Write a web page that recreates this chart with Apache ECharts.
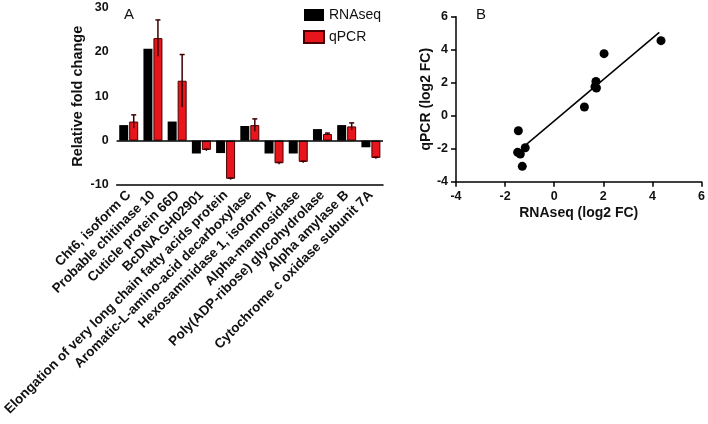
<!DOCTYPE html>
<html><head><meta charset="utf-8">
<script src="https://cdn.jsdelivr.net/npm/echarts@6/dist/echarts.min.js"></script>
<style>html,body{margin:0;padding:0;background:#fff}#c{width:708px;height:424px}</style>
</head><body><div id="c"></div>
<script>
const categories = ['Cht6, isoform C','Probable chitinase 10','Cuticle protein 66D','BcDNA.GH02901','Elongation of very long chain fatty acids protein','Aromatic-L-amino-acid decarboxylase','Hexosaminidase 1, isoform A','Alpha-mannosidase','Poly(ADP-ribose) glycohydrolase','Alpha amylase B','Cytochrome c oxidase subunit 7A'];
const rnaseq = [3.5, 20.7, 4.3, -2.9, -2.8, 3.3, -2.9, -2.9, 2.6, 3.5, -1.5];
const qpcr = [4.3, 23.1, 13.5, -2.1, -8.6, 3.5, -5.1, -4.8, 1.5, 3.2, -3.9];
const qpcrErr = [1.5, 4.1, 5.9, 0.2, 0.2, 1.4, 0.2, 0.2, 0.2, 0.8, 0.2];
const scatterX = [-1.46, -1.49, -1.38, -1.18, -1.30, 1.23, 1.70, 1.66, 1.72, 2.03, 4.35];
const scatterY = [-0.91, -2.22, -2.32, -1.94, -3.07, 0.53, 2.08, 1.76, 1.68, 3.76, 4.55];
const fitX = [-1.18, 4.28];
const fitY = [-1.80, 5.05];
const barTicks = [-10, 0, 10, 20, 30];

const chart = echarts.init(document.getElementById('c'));
const F = 'Liberation Sans, Arial, sans-serif';
const axisLine = {lineStyle:{color:'#000', width:1.5}};
const axisTick = {lineStyle:{color:'#000', width:1.5}, length:5};
const tickLabel = {color:'#111', fontFamily:F, fontWeight:'bold', fontSize:12.5};

chart.setOption({
  animation:false,
  textStyle:{fontFamily:F},
  title:[
    {text:'A', left:119, top:2, textStyle:{fontFamily:F, fontWeight:'normal', fontSize:15, color:'#111'}},
    {text:'B', left:471, top:2, textStyle:{fontFamily:F, fontWeight:'normal', fontSize:15, color:'#111'}}
  ],
  legend:{
    left:298, top:3, orient:'vertical', itemWidth:20, itemHeight:12, itemGap:8,
    textStyle:{fontFamily:F, fontSize:14, color:'#111'},
    data:[{name:'RNAseq', icon:'rect'},{name:'qPCR', icon:'rect'}]
  },
  grid:[
    {left:116, top:7.5, width:267, height:177.5},
    {left:456, top:16.7, width:248, height:165}
  ],
  xAxis:[
    {type:'category', gridIndex:0, data:categories, boundaryGap:true,
     axisLine:{...axisLine, onZero:false}, axisTick:{...axisTick, alignWithLabel:true},
     axisLabel:{...tickLabel, fontSize:13.5, rotate:45, interval:0, margin:8}},
    {type:'value', gridIndex:1, min:-4, max:6, interval:2, splitLine:{show:false},
     axisLine:{...axisLine, onZero:false}, axisTick:axisTick, axisLabel:tickLabel,
     name:'RNAseq (log2 FC)', nameLocation:'middle', nameGap:24,
     nameTextStyle:{fontFamily:F, fontWeight:'bold', fontSize:14, color:'#111'}}
  ],
  yAxis:[
    {type:'value', gridIndex:0, min:-10, max:30, interval:10, splitLine:{show:false},
     axisLine:{...axisLine, onZero:false}, axisTick:axisTick, axisLabel:tickLabel,
     name:'Relative fold change', nameLocation:'middle', nameGap:31,
     nameTextStyle:{fontFamily:F, fontWeight:'bold', fontSize:14.5, color:'#111'}},
    {type:'value', gridIndex:1, min:-4, max:6, interval:2, splitLine:{show:false},
     axisLine:{...axisLine, onZero:false}, axisTick:axisTick, axisLabel:tickLabel,
     name:'qPCR (log2 FC)', nameLocation:'middle', nameGap:20,
     nameTextStyle:{fontFamily:F, fontWeight:'bold', fontSize:14, color:'#111'}}
  ],
  series:[
    {name:'RNAseq', type:'bar', xAxisIndex:0, yAxisIndex:0, data:rnaseq, barWidth:9, barGap:'11%',
     itemStyle:{color:'#000'},
     markLine:{silent:true, symbol:'none', label:{show:false}, lineStyle:{color:'#000', width:1.5, type:'solid'},
       data:[{yAxis:0}]}},
    {name:'qPCR', type:'bar', xAxisIndex:0, yAxisIndex:0, data:qpcr, barWidth:9,
     itemStyle:{color:'#e8161c', borderColor:'#4a0000', borderWidth:1}},
    {name:'qPCR err', type:'custom', xAxisIndex:0, yAxisIndex:0, silent:true, z:5,
     data:qpcr.map((v,i)=>[i, v-qpcrErr[i], v+qpcrErr[i]]),
     renderItem:function(params, api){
       const lo = api.coord([api.value(0), api.value(1)]);
       const hi = api.coord([api.value(0), api.value(2)]);
       const x = lo[0] + 5;
       const s = {stroke:'#3a0000', lineWidth:1.5};
       return {type:'group', children:[
         {type:'line', shape:{x1:x, y1:lo[1], x2:x, y2:hi[1]}, style:s},
         {type:'line', shape:{x1:x-2.5, y1:hi[1], x2:x+2.5, y2:hi[1]}, style:s}
       ]};
     }},
    {name:'points', type:'scatter', xAxisIndex:1, yAxisIndex:1, symbolSize:9,
     data:scatterX.map((x,i)=>[x, scatterY[i]]), itemStyle:{color:'#000', opacity:1}},
    {name:'fit', type:'line', xAxisIndex:1, yAxisIndex:1, showSymbol:false, symbol:'none',
     data:fitX.map((x,i)=>[x, fitY[i]]), lineStyle:{color:'#000', width:1.5}}
  ]
});
</script></body></html>
